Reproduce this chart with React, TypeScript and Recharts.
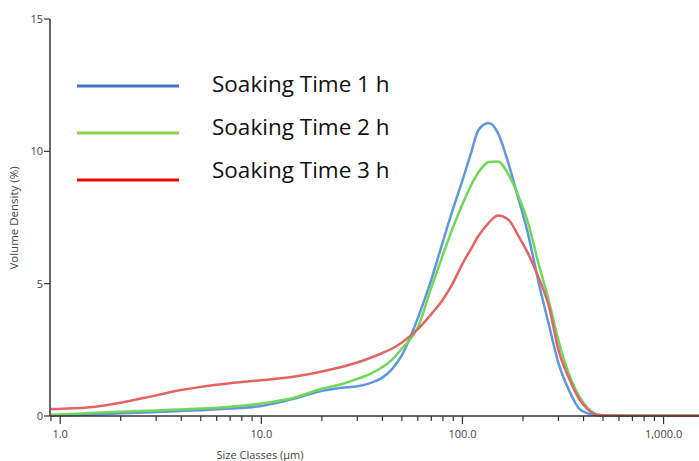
import React from 'react'
import { LineChart, Line, XAxis, YAxis } from 'recharts'

// size classes (µm) and volume density (%) per soaking time
const sizes = [
  0.9, 1, 1.5, 2, 3, 4, 5, 7, 10, 15, 20, 25, 30, 35, 40, 45, 50, 60, 70, 80, 90, 100,
  110, 120, 135, 150, 170, 190, 210, 240, 270, 300, 340, 380, 420, 480, 550, 700, 1000, 1500,
]
const soak1h = [
  0.02, 0.03, 0.06, 0.1, 0.15, 0.19, 0.22, 0.28, 0.38, 0.68, 0.95, 1.07, 1.12, 1.25, 1.45, 1.8, 2.3, 3.7, 5.15, 6.6, 7.85, 8.9,
  9.9, 10.8, 11.07, 10.7, 9.5, 8.2, 7.0, 5.0, 3.4, 2.0, 0.95, 0.28, 0.1, 0.02, 0.01, 0.01, 0.01, 0.01,
]
const soak2h = [
  0.05, 0.06, 0.12, 0.16, 0.21, 0.25, 0.28, 0.35, 0.47, 0.72, 1.03, 1.2, 1.4, 1.6, 1.85, 2.15, 2.55, 3.35, 4.85, 6.1, 7.15, 8.0,
  8.7, 9.2, 9.6, 9.62, 9.1, 8.3, 7.4, 5.7, 4.3, 2.85, 1.55, 0.75, 0.3, 0.04, 0.02, 0.01, 0.01, 0.01,
]
const soak3h = [
  0.26, 0.27, 0.35, 0.5, 0.78, 0.98, 1.1, 1.24, 1.35, 1.5, 1.68, 1.85, 2.02, 2.2, 2.38, 2.56, 2.78, 3.28, 3.85, 4.4, 5.05, 5.75,
  6.3, 6.8, 7.3, 7.58, 7.4, 6.8, 6.2, 5.2, 4.1, 2.5, 1.4, 0.65, 0.25, 0.04, 0.02, 0.01, 0.01, 0.01,
]
const seriesNames = ['Soaking Time 1 h', 'Soaking Time 2 h', 'Soaking Time 3 h']

const xMajorTicks = [1, 10, 100, 1000]
const xTicks = [
  0.9, 1, 2, 3, 4, 5, 6, 7, 8, 9, 10, 20, 30, 40, 50, 60, 70, 80, 90, 100,
  200, 300, 400, 500, 600, 700, 800, 900, 1000,
]
const yTicks = [0, 5, 10, 15]

const lineColors = ['#5e97dc', '#72d65a', '#e26464']
const legendColors = ['#4472c4', '#92d050', '#ff0000']

const data = sizes.map((s, i) => ({ size: s, s1: soak1h[i], s2: soak2h[i], s3: soak3h[i] }))

const tickFont = '"Open Sans", sans-serif'

const XTick = (props: any) => {
  const { x, y, payload } = props
  const major = xMajorTicks.includes(payload.value)
  return (
    <g>
      <line x1={x} x2={x} y1={y} y2={y + (major ? 8 : 5)} stroke="#333" strokeWidth={1.2} />
      {major && (
        <text x={x} y={y + 22} textAnchor="middle" fontSize={11} fill="#444" fontFamily={tickFont}>
          {payload.value.toLocaleString('en-US', { minimumFractionDigits: 1 })}
        </text>
      )}
    </g>
  )
}

const YTick = (props: any) => {
  const { x, y, payload } = props
  return (
    <g>
      <line x1={x - 6} x2={x} y1={y} y2={y} stroke="#333" strokeWidth={1.2} />
      <text x={x - 7} y={y + 4} textAnchor="end" fontSize={11} fill="#444" fontFamily={tickFont}>
        {payload.value}
      </text>
    </g>
  )
}

const LegendBox = () => (
  <svg width={420} height={200} style={{ position: 'absolute', left: 0, top: 0 }}>
    {seriesNames.map((name, i) => (
      <g key={name}>
        <line x1={77} x2={179} y1={86 + i * 47} y2={86 + i * 47} stroke={legendColors[i]} strokeWidth={3} />
        <text x={212} y={92 + i * 43} fontSize={22.5} fill="#111" fontFamily={tickFont}>
          {name}
        </text>
      </g>
    ))}
  </svg>
)

export default function App() {
  return (
    <div style={{ position: 'absolute', left: 0, top: 0, width: 699, height: 461, background: '#fff' }}>
      <LineChart width={699} height={461} data={data} margin={{ top: 19, right: 0, left: 0, bottom: 0 }}>
        <XAxis
          dataKey="size"
          type="number"
          scale="log"
          domain={[0.89, 1500]}
          allowDataOverflow
          ticks={xTicks}
          interval={0}
          height={45}
          tickLine={false}
          tickSize={0}
          tickMargin={0}
          tick={<XTick />}
          stroke="#333"
          strokeWidth={1.5}
          label={{
            content: () => (
              <text x={260} y={459} textAnchor="middle" fontSize={11} fill="#444" fontFamily={tickFont}>
                Size Classes (µm)
              </text>
            ),
          }}
        />
        <YAxis
          type="number"
          domain={[0, 15]}
          ticks={yTicks}
          width={50}
          tickLine={false}
          tickSize={0}
          tickMargin={0}
          tick={<YTick />}
          stroke="#333"
          strokeWidth={1.5}
          label={{
            content: () => (
              <text
                x={18}
                y={218}
                transform="rotate(-90 18 218)"
                textAnchor="middle"
                fontSize={11.5}
                fill="#444"
                fontFamily={tickFont}
              >
                Volume Density (%)
              </text>
            ),
          }}
        />
        <Line type="monotone" dataKey="s1" name={seriesNames[0]} stroke={lineColors[0]} strokeWidth={2.5} dot={false} isAnimationActive={false} />
        <Line type="monotone" dataKey="s2" name={seriesNames[1]} stroke={lineColors[1]} strokeWidth={2.5} dot={false} isAnimationActive={false} />
        <Line type="monotone" dataKey="s3" name={seriesNames[2]} stroke={lineColors[2]} strokeWidth={2.5} dot={false} isAnimationActive={false} />
      </LineChart>
      <LegendBox />
    </div>
  )
}
